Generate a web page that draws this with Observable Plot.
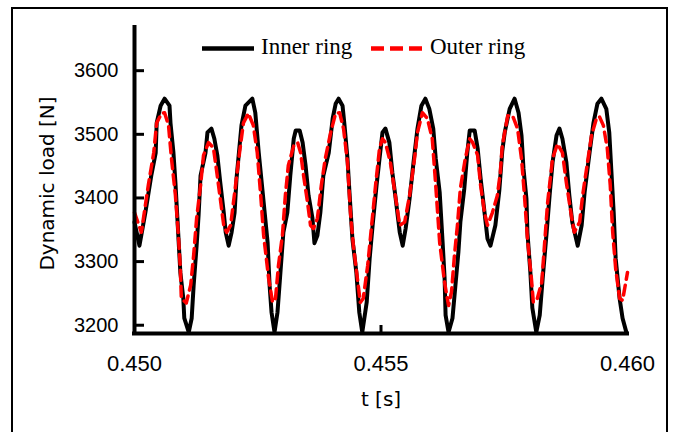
<!DOCTYPE html>
<html>
<head>
<meta charset="utf-8">
<script src="https://cdn.jsdelivr.net/npm/d3@7"></script>
<script src="https://cdn.jsdelivr.net/npm/@observablehq/plot@0.6"></script>
<style>
  html, body { margin: 0; padding: 0; background: #fff; overflow: hidden; }
  #wrap { position: relative; width: 674px; height: 432px; }
  #frame { position: absolute; left: 11px; top: 7px; width: 657px; height: 440px; border: 2px solid #000; box-sizing: border-box; }
  #chart { position: absolute; left: 0; top: 0; }
  #legend { position: absolute; left: 0; top: 0; }
</style>
</head>
<body>
<div id="wrap">
  <div id="frame"></div>
  <div id="chart"></div>
  <svg id="legend" width="674" height="80"></svg>
</div>
<script>
// ---- Data ----
const seriesNames = ["Inner ring", "Outer ring"];
const seriesColors = ["#000000", "#ff0000"];

const tInner = [0.45000,0.45010,0.45022,0.45034,0.45043,0.45045,0.45053,0.45061,0.45071,0.45073,0.45079,0.45083,0.45087,0.45093,0.45099,0.45101,0.45110,0.45116,0.45120,0.45126,0.45130,0.45134,0.45144,0.45148,0.45156,0.45162,0.45168,0.45174,0.45181,0.45185,0.45191,0.45197,0.45203,0.45207,0.45217,0.45225,0.45239,0.45245,0.45252,0.45262,0.45270,0.45274,0.45278,0.45284,0.45290,0.45296,0.45302,0.45310,0.45316,0.45323,0.45327,0.45335,0.45341,0.45347,0.45353,0.45361,0.45365,0.45371,0.45377,0.45383,0.45394,0.45402,0.45408,0.45414,0.45422,0.45426,0.45432,0.45436,0.45442,0.45450,0.45456,0.45462,0.45471,0.45477,0.45483,0.45491,0.45497,0.45503,0.45509,0.45517,0.45523,0.45529,0.45538,0.45544,0.45550,0.45558,0.45566,0.45574,0.45582,0.45590,0.45598,0.45606,0.45611,0.45619,0.45625,0.45629,0.45631,0.45637,0.45645,0.45651,0.45657,0.45661,0.45669,0.45675,0.45680,0.45690,0.45696,0.45702,0.45710,0.45716,0.45722,0.45732,0.45740,0.45746,0.45751,0.45761,0.45771,0.45779,0.45785,0.45789,0.45795,0.45797,0.45803,0.45807,0.45815,0.45822,0.45828,0.45836,0.45842,0.45848,0.45856,0.45862,0.45868,0.45876,0.45882,0.45888,0.45899,0.45907,0.45913,0.45923,0.45931,0.45939,0.45947,0.45957,0.45963,0.45967,0.45972,0.45976,0.45984,0.45990,0.45998];
const loadInner = [3362,3325,3377,3435,3471,3518,3545,3556,3545,3518,3471,3424,3368,3283,3242,3211,3189,3211,3263,3325,3373,3435,3471,3503,3509,3493,3467,3424,3377,3346,3325,3346,3377,3431,3514,3545,3556,3534,3471,3393,3330,3263,3220,3189,3220,3283,3346,3377,3435,3493,3506,3506,3487,3451,3404,3368,3329,3341,3377,3435,3471,3525,3548,3556,3545,3514,3462,3409,3336,3283,3220,3189,3236,3305,3357,3420,3462,3503,3509,3487,3440,3404,3346,3325,3352,3399,3456,3509,3545,3556,3540,3509,3462,3409,3330,3274,3216,3189,3211,3263,3315,3362,3415,3471,3506,3506,3478,3431,3377,3336,3325,3357,3412,3474,3503,3540,3556,3534,3498,3446,3399,3346,3283,3227,3189,3216,3274,3346,3404,3456,3498,3509,3493,3456,3404,3362,3325,3357,3409,3471,3518,3548,3556,3540,3503,3446,3377,3305,3242,3211,3188];

const tOuter = [0.45000,0.45014,0.45028,0.45039,0.45045,0.45055,0.45061,0.45069,0.45075,0.45083,0.45089,0.45093,0.45095,0.45105,0.45114,0.45120,0.45126,0.45134,0.45140,0.45150,0.45160,0.45166,0.45174,0.45181,0.45187,0.45195,0.45205,0.45213,0.45221,0.45231,0.45241,0.45249,0.45256,0.45262,0.45272,0.45280,0.45286,0.45292,0.45300,0.45306,0.45312,0.45323,0.45331,0.45337,0.45343,0.45351,0.45357,0.45363,0.45371,0.45379,0.45387,0.45398,0.45408,0.45416,0.45424,0.45432,0.45438,0.45444,0.45452,0.45458,0.45464,0.45473,0.45479,0.45489,0.45497,0.45503,0.45509,0.45519,0.45529,0.45538,0.45548,0.45558,0.45568,0.45574,0.45584,0.45594,0.45604,0.45611,0.45619,0.45629,0.45637,0.45643,0.45649,0.45655,0.45661,0.45671,0.45680,0.45686,0.45696,0.45702,0.45710,0.45716,0.45726,0.45736,0.45742,0.45746,0.45757,0.45767,0.45777,0.45785,0.45791,0.45797,0.45805,0.45809,0.45817,0.45826,0.45832,0.45838,0.45848,0.45858,0.45868,0.45876,0.45886,0.45892,0.45903,0.45909,0.45917,0.45927,0.45937,0.45943,0.45951,0.45959,0.45965,0.45970,0.45976,0.45984,0.45990,0.46000];
const loadOuter = [3377,3346,3420,3471,3518,3533,3534,3514,3462,3404,3341,3289,3242,3235,3263,3310,3368,3420,3467,3487,3479,3446,3399,3357,3346,3357,3420,3471,3518,3533,3514,3471,3404,3341,3274,3236,3242,3294,3341,3404,3451,3482,3487,3471,3435,3393,3357,3352,3368,3420,3462,3503,3533,3534,3509,3456,3377,3325,3274,3236,3242,3294,3341,3420,3478,3493,3487,3456,3404,3357,3362,3404,3462,3503,3534,3525,3493,3420,3330,3267,3231,3252,3310,3357,3415,3462,3493,3487,3467,3420,3377,3357,3377,3404,3440,3482,3529,3529,3509,3462,3404,3336,3274,3236,3242,3267,3330,3393,3462,3485,3471,3424,3373,3346,3362,3404,3446,3498,3525,3528,3514,3478,3420,3346,3289,3242,3239,3283];

const yTicks = [3200, 3300, 3400, 3500, 3600];
const xTickLabels = [0.450, 0.455, 0.460];
const xTickMarks = [0.455];
const xLabel = "t [s]";
const yLabel = "Dynamic load [N]";

// ---- Build table ----
const rows = [
  ...tInner.map((t, i) => ({t, load: loadInner[i], series: seriesNames[0]})),
  ...tOuter.map((t, i) => ({t, load: loadOuter[i], series: seriesNames[1]}))
];
const inner = rows.filter(d => d.series === seriesNames[0]);
const outer = rows.filter(d => d.series === seriesNames[1]);

const sansTick = "'Liberation Sans', Arial, sans-serif";
const sansLabel = "'DejaVu Sans', Verdana, sans-serif";

const chart = Plot.plot({
  width: 674,
  height: 432,
  marginLeft: 134,
  marginRight: 47,
  marginTop: 25,
  marginBottom: 99,
  style: {background: "transparent", overflow: "visible"},
  x: {domain: [0.45, 0.46]},
  y: {domain: [3187, 3671]},
  marks: [
    // Y tick labels
    Plot.axisY({ticks: yTicks, tickSize: 0, tickPadding: 16, fontSize: 20, fontFamily: sansTick, tickFormat: d => String(d), label: null, fill: "#000"}),
    // Y inward tick marks
    Plot.axisY({ticks: yTicks, tickSize: 10, dx: 10, strokeWidth: 3, tickFormat: () => "", label: null}),
    // X tick labels
    Plot.axisX({ticks: xTickLabels, tickSize: 0, tickPadding: 22, fontSize: 22, fontFamily: sansTick, tickFormat: d3.format(".3f"), label: null}),
    // X inward tick mark
    Plot.axisX({ticks: xTickMarks, tickSize: 8, dy: -8, strokeWidth: 3, tickFormat: () => "", label: null}),
    // data lines
    Plot.line(inner, {x: "t", y: "load", stroke: seriesColors[0], strokeWidth: 4, strokeLinejoin: "round"}),
    Plot.line(outer, {x: "t", y: "load", stroke: seriesColors[1], strokeWidth: 3.5, strokeDasharray: "10,6"}),
    // axis lines
    Plot.ruleX([0.45], {stroke: "#000", strokeWidth: 4}),
    Plot.ruleY([3187], {stroke: "#000", strokeWidth: 4, insetLeft: -2, insetRight: -2}),
    // axis titles
    Plot.text([yLabel], {frameAnchor: "left", textAnchor: "middle", lineAnchor: "middle", rotate: -90, dx: -87, dy: 4, fontSize: 20, fontFamily: sansLabel, fill: "#000"}),
    Plot.text([xLabel], {frameAnchor: "bottom", textAnchor: "middle", lineAnchor: "middle", dy: 66, fontSize: 20, fontFamily: sansLabel, fill: "#000"})
  ]
});
document.getElementById("chart").appendChild(chart);

// ---- Legend (inside plot, top) ----
const leg = d3.select("#legend");
const entries = [
  {name: seriesNames[0], color: seriesColors[0], dash: null, x: 202},
  {name: seriesNames[1], color: seriesColors[1], dash: "13,6", x: 371}
];
entries.forEach(e => {
  leg.append("line")
    .attr("x1", e.x).attr("x2", e.x + 52)
    .attr("y1", 48.5).attr("y2", 48.5)
    .attr("stroke", e.color).attr("stroke-width", 4.5)
    .attr("stroke-dasharray", e.dash);
  leg.append("text")
    .attr("x", e.x + 59).attr("y", 54)
    .attr("font-family", "'Liberation Serif', 'Times New Roman', serif")
    .attr("font-size", 23)
    .attr("fill", "#000")
    .text(e.name);
});
</script>
</body>
</html>
